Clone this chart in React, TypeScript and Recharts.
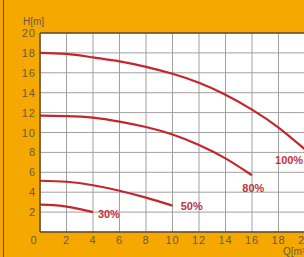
import React from 'react';
import { LineChart, Line, XAxis, YAxis, CartesianGrid, ReferenceLine, ReferenceDot } from 'recharts';

// pump curves, Q in m3/h, H in m
const xTicks = [0, 2, 4, 6, 8, 10, 12, 14, 16, 18, 20];
const yTicks = [0, 2, 4, 6, 8, 10, 12, 14, 16, 18, 20];

const q100 = [0, 2, 4, 6, 8, 10, 12, 14, 16, 18, 20];
const h100 = [18, 17.9, 17.55, 17.15, 16.6, 15.9, 15.0, 13.8, 12.3, 10.5, 8.3];
const q80 = [0, 2, 4, 6, 8, 10, 12, 14, 16];
const h80 = [11.7, 11.65, 11.5, 11.1, 10.55, 9.8, 8.75, 7.4, 5.7];
const q50 = [0, 2, 4, 6, 8, 10];
const h50 = [5.15, 5.05, 4.7, 4.15, 3.45, 2.65];
const q30 = [0, 1, 2, 3, 4];
const h30 = [2.75, 2.7, 2.55, 2.3, 2.0];

const curveNames = ['100%', '80%', '50%', '30%'];
const labelQ = [18.8, 16.1, 11.45, 5.2];
const labelH = [7.2, 4.4, 2.6, 1.8];

const rows = (qs: number[], hs: number[]) => qs.map((q, i) => ({ q, h: hs[i] }));
const curves = [rows(q100, h100), rows(q80, h80), rows(q50, h50), rows(q30, h30)];

const ORANGE = '#f5a800';
const RED = '#c4262e';
const FRAME = '#6b4a1a';
const TEXT = '#6a5a40';
const FONT = 'Arial, "Liberation Sans", sans-serif';

const XTick = (props: any) => {
  const { x, y, payload } = props;
  const dx = payload.value === 0 ? -6 : 0;
  return (
    <text x={x + dx} y={y + 12} textAnchor="middle" fill={TEXT} fontSize={11} fontFamily={FONT} letterSpacing={1}>
      {payload.value}
    </text>
  );
};

const YTick = (props: any) => {
  const { x, y, payload } = props;
  if (payload.value === 0) return null;
  return (
    <text x={x - 4} y={y + 4} textAnchor="end" fill={TEXT} fontSize={11} fontFamily={FONT} letterSpacing={1}>
      {payload.value}
    </text>
  );
};

export default function App() {
  return (
    <div style={{ position: 'fixed', left: 0, top: 0, width: 304, height: 257, overflow: 'hidden', background: ORANGE }}>
      <div style={{ position: 'absolute', left: 3, top: 0, width: 1, height: 257, background: FRAME }} />
      <div style={{ position: 'absolute', left: 23, top: 16, fontSize: 10, fontFamily: FONT, color: TEXT }}>H[m]</div>
      <div style={{ position: 'absolute', left: 283, top: 246, fontSize: 10, fontFamily: FONT, color: TEXT, whiteSpace: 'nowrap' }}>Q[m³/h]</div>
      <LineChart width={320} height={257} margin={{ top: 33, right: 15, left: 0, bottom: 0 }}>
        <CartesianGrid fill="#fff" stroke="#a0a0a0" horizontalValues={yTicks} verticalValues={xTicks} />
        <XAxis
          type="number"
          dataKey="q"
          domain={[0, 20]}
          ticks={xTicks}
          interval={0}
          height={25}
          tickSize={0}
          tickMargin={0}
          tick={<XTick />}
          axisLine={{ stroke: FRAME, strokeWidth: 1.5 }}
          tickLine={false}
        />
        <YAxis
          type="number"
          dataKey="h"
          domain={[0, 20]}
          ticks={yTicks}
          interval={0}
          width={40}
          tickSize={0}
          tickMargin={0}
          tick={<YTick />}
          axisLine={{ stroke: FRAME, strokeWidth: 1.5 }}
          tickLine={false}
        />
        <ReferenceLine y={20} stroke={FRAME} strokeWidth={1.5} />
        {curves.map((c, i) => (
          <Line
            key={curveNames[i]}
            data={c}
            dataKey="h"
            type="natural"
            stroke={RED}
            strokeWidth={2.2}
            dot={false}
            isAnimationActive={false}
          />
        ))}
        {curveNames.map((n, i) => (
          <ReferenceDot
            key={n}
            x={labelQ[i]}
            y={labelH[i]}
            r={0}
            fill="none"
            stroke="none"
            label={{ value: n, position: 'center', fill: '#c0343c', fontSize: 11, fontWeight: 'bold', fontFamily: FONT }}
          />
        ))}
      </LineChart>
    </div>
  );
}
